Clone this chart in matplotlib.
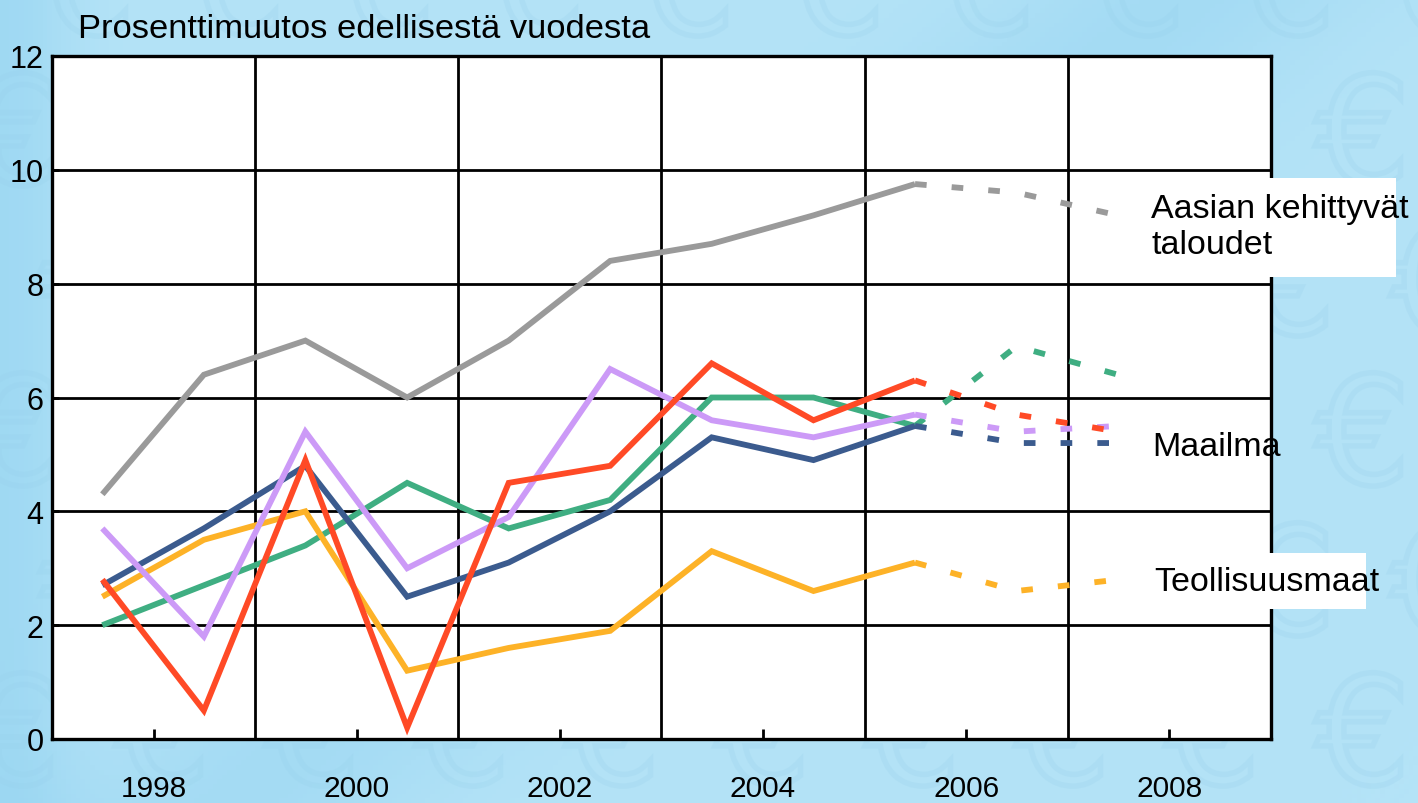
import datetime as dt
import numpy as np
import matplotlib
matplotlib.use("Agg")
import matplotlib.pyplot as plt
from matplotlib.patches import Rectangle, PathPatch
from matplotlib.textpath import TextPath
from matplotlib.font_manager import FontProperties
from matplotlib.transforms import Affine2D

# ---------------- data ----------------
years = list(range(1997, 2008))          # annual values, plotted at mid-year
last_actual = 2005                        # solid up to here, dashed (forecast) after

aasia = [4.3, 6.4, 7.0, 6.0, 7.0, 8.4, 8.7, 9.2, 9.75, 9.6, 9.2]
teollisuus = [2.5, 3.5, 4.0, 1.2, 1.6, 1.9, 3.3, 2.6, 3.1, 2.6, 2.8]
maailma = [2.7, 3.7, 4.8, 2.5, 3.1, 4.0, 5.3, 4.9, 5.5, 5.2, 5.2]
sarja_vihrea = [2.0, 2.7, 3.4, 4.5, 3.7, 4.2, 6.0, 6.0, 5.5, 6.9, 6.4]
sarja_violetti = [3.7, 1.8, 5.4, 3.0, 3.9, 6.5, 5.6, 5.3, 5.7, 5.4, 5.5]
sarja_punainen = [2.8, 0.5, 4.9, 0.2, 4.5, 4.8, 6.6, 5.6, 6.3, 5.7, 5.4]

series = [
    ("Aasian kehittyvät taloudet", aasia, "#9a9a9a"),
    ("vihreä", sarja_vihrea, "#3fae82"),
    ("Teollisuusmaat", teollisuus, "#fdb227"),
    ("Maailma", maailma, "#3b5b8e"),
    ("violetti", sarja_violetti, "#cc9af7"),
    ("punainen", sarja_punainen, "#ff4a26"),
]

title_text = "Prosenttimuutos edellisestä vuodesta"
label_texts = [("Aasian kehittyvät\ntaloudet", 1151, 194),
               ("Maailma", 1152, 448),
               ("Teollisuusmaat", 1154, 583)]
label_boxes = [(1268, 179, 128, 99), (1268, 554, 98, 56)]

y_ticks = [0, 2, 4, 6, 8, 10, 12]
x_label_years = [1998, 2000, 2002, 2004, 2006, 2008]
x_grid_years = [1997, 1999, 2001, 2003, 2005, 2007, 2009]

# ---------------- figure ----------------
W, H = 1418, 804
plt.rcParams['font.family'] = ['Liberation Sans', 'DejaVu Sans']
fig = plt.figure(figsize=(W / 100, H / 100), dpi=100)

# background: light blue with faint euro pattern
bg = fig.add_axes([0, 0, 1, 1], zorder=-10)
gx = np.linspace(0, 1, 300)
gy = np.linspace(0, 1, 170)
GX, GY = np.meshgrid(gx, gy)
base = np.array([180, 227, 247]) / 255.0
dark = np.array([135, 205, 238]) / 255.0
band = np.exp(-((GX * 0.9 + GY * 0.6 - 0.75) ** 2) / 0.015) * 0.35
leftdark = np.exp(-(GX / 0.05) ** 2) * 0.45
t = np.clip(band + leftdark, 0, 1)[..., None]
img = base * (1 - t) + dark * t
bg.imshow(img, extent=[0, W, 0, H], origin='upper', aspect='auto')
fp = FontProperties(family='DejaVu Sans')
tp = TextPath((0, 0), "€", size=150, prop=fp)
for row, yc in enumerate(range(-20, H + 150, 150)):
    off = 0 if row % 2 == 0 else 75
    for xc in range(1300 - 150 * 10 + off, W + 150, 150):
        tr = Affine2D().translate(xc - 60, H - yc - 55)
        bg.add_patch(PathPatch(tr.transform_path(tp), facecolor='none',
                               edgecolor='#96cfea', lw=4, alpha=0.22))
bg.set_xlim(0, W)
bg.set_ylim(0, H)
bg.axis('off')

# main axes
L, R, B, T = 52, 1271, 740, 57
ax = fig.add_axes([L / W, 1 - B / H, (R - L) / W, (B - T) / H], zorder=1)
ax.set_facecolor('white')

dates = [dt.date(y, 7, 1) for y in years]
split = years.index(last_actual)
for name, vals, col in series:
    ax.plot(dates[:split + 1], vals[:split + 1], color=col, lw=4.2,
            solid_joinstyle='miter', solid_capstyle='butt', zorder=3)
    ax.plot(dates[split:], vals[split:], color=col, lw=4.2,
            linestyle=(0, (2.0, 4.3)), dash_capstyle='butt', zorder=3)

ax.set_xlim(dt.date(1997, 1, 1), dt.date(2009, 1, 1))
ax.set_ylim(0, 12)
ax.set_yticks(y_ticks)
ax.set_yticklabels([str(v) for v in y_ticks])
ax.set_xticks([dt.date(y, 1, 1) for y in x_label_years])
ax.set_xticklabels([str(y) for y in x_label_years])
ax.set_xticks([dt.date(y, 1, 1) for y in x_grid_years], minor=True)

for v in y_ticks[1:-1]:
    ax.axhline(v, color='black', lw=2.0, zorder=2)
for y in x_grid_years[1:-1]:
    ax.axvline(dt.date(y, 1, 1), color='black', lw=2.0, zorder=2)

for s in ax.spines.values():
    s.set_color('black')
    s.set_linewidth(2.4)
    s.set_zorder(4)

ax.tick_params(axis='x', which='major', direction='in', length=7, width=2,
               pad=25, labelsize=21.5, colors='black')
ax.tick_params(axis='x', which='minor', length=0)
ax.tick_params(axis='y', which='major', direction='in', length=5, width=2,
               pad=6, labelsize=22, colors='black')

# title
fig.text(78 / W, 1 - 38 / H, title_text, fontsize=24.8, va='baseline',
         ha='left', color='black')

# label boxes and labels
for (x0, y0, w, h) in label_boxes:
    fig.add_artist(Rectangle((x0 / W, 1 - (y0 + h) / H), w / W, h / H,
                             transform=fig.transFigure, facecolor='white',
                             edgecolor='none', zorder=5))
for txt, x0, yc in label_texts:
    fig.text(x0 / W, 1 - yc / H, txt, fontsize=24.5, ha='left',
             va='top' if '\n' in txt else 'center', linespacing=1.2,
             color='black', zorder=6)

fig.savefig('out.png', dpi=100)
